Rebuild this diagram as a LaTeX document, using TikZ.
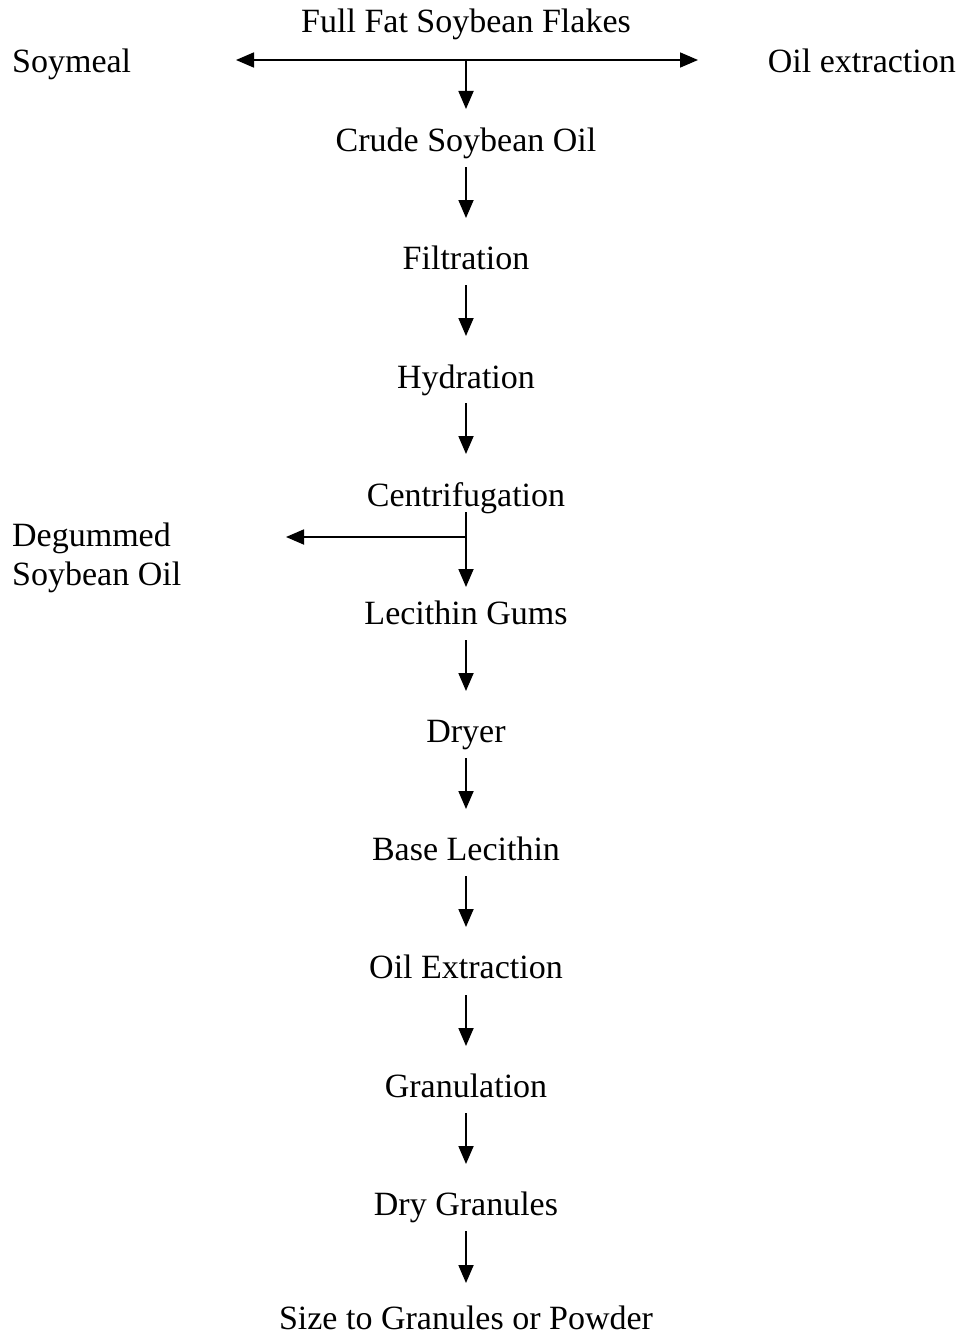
\documentclass[tikz,border=0pt]{standalone}
\usepackage{fontspec}
\setmainfont{Liberation Serif}
\usetikzlibrary{arrows.meta}
\begin{document}
\begin{tikzpicture}[x=1pt,y=-1pt,
  lbl/.style={font=\fontsize{34}{39}\selectfont, inner sep=0pt, anchor=base},
  flow/.style={line width=1.8pt, -{Triangle[length=18pt,width=15pt]}},
  plain/.style={line width=1.8pt}]
\useasboundingbox (0,0) rectangle (961,1335);
\node[lbl] (n0) at (466,33) {Full Fat Soybean Flakes};
\node[lbl] (n1) at (466,151) {Crude Soybean Oil};
\node[lbl] (n2) at (466,269) {Filtration};
\node[lbl] (n3) at (466,388) {Hydration};
\node[lbl] (n4) at (466,506) {Centrifugation};
\node[lbl] (n5) at (466,624) {Lecithin Gums};
\node[lbl] (n6) at (466,742) {Dryer};
\node[lbl] (n7) at (466,860) {Base Lecithin};
\node[lbl] (n8) at (466,978) {Oil Extraction};
\node[lbl] (n9) at (466,1097) {Granulation};
\node[lbl] (n10) at (466,1215) {Dry Granules};
\node[lbl, text depth=0pt] (n11) at (466,1329) {Size to Granules or Powder};
\node[lbl, anchor=base west] (soy) at (12,73) {Soymeal};
\node[lbl, anchor=base east] (oil) at (956,73) {Oil extraction};
\node[lbl, anchor=base west] (deg1) at (12,546) {Degummed};
\node[lbl, anchor=base west] (deg2) at (12,585) {Soybean Oil};
% top split
\coordinate (j0) at (466,60);
\coordinate (tl) at (236,60);
\coordinate (tr) at (698,60);
\draw[flow] (j0) -- (tl);
\draw[flow] (j0) -- (tr);
\draw[flow] (j0) -- (466,109);
% chain arrows
\foreach \ys/\ye in {167/218, 285/336, 403/454, 640/691, 758/809, 876/927, 995/1046, 1113/1164, 1231/1283}{
  \draw[flow] (466,\ys) -- (466,\ye);
}
% centrifugation split
\coordinate (j4) at (466,537);
\draw[plain] (466,512) -- (j4);
\draw[flow] (j4) -- (286,537);
\draw[flow] (j4) -- (466,587);
\end{tikzpicture}
\end{document}
